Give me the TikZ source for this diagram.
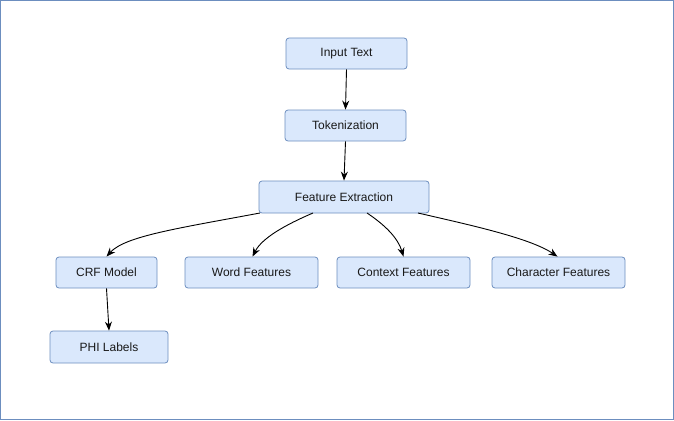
\documentclass[tikz,border=0pt]{standalone}
\usepackage{fontspec}
\setmainfont{Liberation Sans}
\usetikzlibrary{arrows.meta}
\definecolor{boxfill}{HTML}{DAE8FC}
\definecolor{boxline}{HTML}{6C8EBF}
\begin{document}
\begin{tikzpicture}[x=1pt,y=-1pt,
  box/.style={draw=boxline,fill=boxfill,rounded corners=3pt,line width=0.8pt,
    minimum height=31pt,inner sep=0pt,font=\fontsize{12}{14}\selectfont,text=black!90},
  conn/.style={line width=0.9pt,-{Stealth[length=9pt,width=7pt]}}]
\useasboundingbox (0,0) rectangle (674,420);
\draw[boxline,line width=1pt] (0.5,0.5) rectangle (673.5,419.5);
\node[box,minimum width=121pt] (in) at (346.5,53.5) {Input Text};
\node[box,minimum width=121pt] (tok) at (345.5,125.5) {Tokenization};
\node[box,minimum width=170pt,minimum height=32pt] (fe) at (344,197) {Feature Extraction};
\node[box,minimum width=101pt] (crf) at (106.5,272.5) {CRF Model};
\node[box,minimum width=133pt] (wf) at (251.5,272.5) {Word Features};
\node[box,minimum width=133pt] (cf) at (403.5,272.5) {Context Features};
\node[box,minimum width=133pt] (chf) at (558.5,272.5) {Character Features};
\node[box,minimum width=118pt,minimum height=32pt] (phi) at (109,347) {PHI Labels};
\draw[conn] (in.south) -- (tok.north);
\draw[conn] (tok.south) -- (fe.north);
\draw[conn] (crf.south) -- (phi.north);
\coordinate (f1) at (260,213);
\coordinate (f2) at (313,213);
\coordinate (f3) at (367,213);
\coordinate (f4) at (418,213);
\draw[conn] (f1) .. controls (180,228) and (125,236) .. (crf.north);
\draw[conn] (f2) .. controls (285,225) and (262,238) .. ([xshift=1pt]wf.north);
\draw[conn] (f3) .. controls (385,225) and (398,238) .. (cf.north);
\draw[conn] (f4) .. controls (470,225) and (530,238) .. ([xshift=-1pt]chf.north);
\end{tikzpicture}
\end{document}
